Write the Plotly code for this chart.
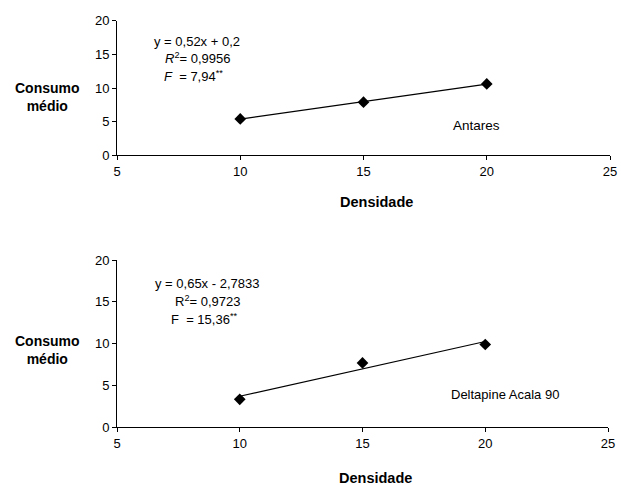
import numpy as np
import plotly.graph_objects as go

densidade = [10, 15, 20]
consumo_antares = [5.4, 7.9, 10.6]
consumo_deltapine = [3.35, 7.7, 9.9]
x_ticks = [5, 10, 15, 20, 25]
y_ticks = [0, 5, 10, 15, 20]

W, H = 621, 485
FONT = "Liberation Sans, Arial, sans-serif"

def px_x(p):
    return p / W

def px_y(p):
    return 1 - p / H

fig = go.Figure()

for i, (ys, xa, ya) in enumerate([(consumo_antares, "x", "y"), (consumo_deltapine, "x2", "y2")]):
    coef = np.polyfit(densidade, ys, 1)
    xl = [min(densidade), max(densidade)]
    yl = [coef[0] * v + coef[1] for v in xl]
    fig.add_trace(go.Scatter(x=xl, y=yl, mode="lines", line=dict(color="black", width=1.2),
                             xaxis=xa, yaxis=ya, showlegend=False, hoverinfo="skip"))
    fig.add_trace(go.Scatter(x=densidade, y=ys, mode="markers",
                             marker=dict(symbol="diamond", size=9, color="black"),
                             xaxis=xa, yaxis=ya, showlegend=False))

axis_common = dict(showgrid=False, zeroline=False, showline=True, linecolor="black", linewidth=1,
                   ticks="outside", ticklen=4, tickcolor="black", tickwidth=1, automargin=False,
                   tickfont=dict(family=FONT, size=13, color="black"))

fig.update_layout(
    template="none",
    width=W, height=H,
    margin=dict(l=0, r=0, t=0, b=0),
    paper_bgcolor="white", plot_bgcolor="white",
    xaxis=dict(domain=[px_x(117), px_x(610)], range=[5, 25], tickvals=x_ticks, anchor="y", **axis_common),
    yaxis=dict(domain=[px_y(155.3), px_y(20.7)], range=[0, 20], tickvals=y_ticks, anchor="x", **axis_common),
    xaxis2=dict(domain=[px_x(117), px_x(608)], range=[5, 25], tickvals=x_ticks, anchor="y2", **axis_common),
    yaxis2=dict(domain=[px_y(427.3), px_y(260)], range=[0, 20], tickvals=y_ticks, anchor="x2", **axis_common),
)

def ann(text, x, y, size=13, bold=False, xanchor="center", yanchor="middle"):
    if bold:
        text = "<b>" + text + "</b>"
    fig.add_annotation(text=text, x=px_x(x), y=px_y(y), xref="paper", yref="paper",
                       showarrow=False, xanchor=xanchor, yanchor=yanchor, align="center",
                       font=dict(family=FONT, size=size, color="black"))

# axis titles
ann("Densidade", 376, 202, size=14.5, bold=True)
ann("Densidade", 375, 478, size=14.5, bold=True)
ann("Consumo<br>médio", 13, 97, size=14, bold=True, xanchor="left")
ann("Consumo<br>médio", 13, 350, size=14, bold=True, xanchor="left")

# equations
ann("y = 0,52x + 0,2", 197, 41)
ann("<i>R</i><sup>2</sup>= 0,9956", 197, 58)
ann("<i>F</i>  = 7,94<sup>**</sup>", 193, 76)
ann("y = 0,65x - 2,7833", 207, 283)
ann("R<sup>2</sup>= 0,9723", 207, 301)
ann("F  = 15,36<sup>**</sup>", 204, 319)

# cultivar labels
ann("Antares", 476, 126, size=13.5)
ann("Deltapine Acala 90", 505, 394)

fig.write_html("out.html", config={"displayModeBar": False},
               post_script="document.body.style.margin='0';document.body.style.overflow='hidden';")
